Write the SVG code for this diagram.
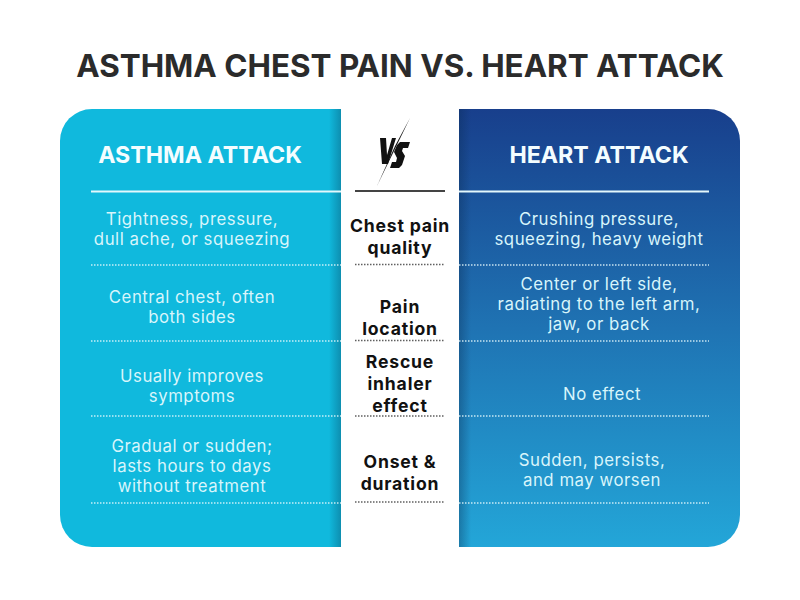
<svg xmlns="http://www.w3.org/2000/svg" width="800" height="600" viewBox="0 0 800 600">
<style>
text{font-family:Inter,"Liberation Sans",sans-serif;text-anchor:middle}
.t{font-size:31.4px;font-weight:700;fill:#2b2b2b}
.h{font-size:23.2px;font-weight:700;fill:#f4fdff}
.b{font-size:16.8px;fill:#d8f5fb;letter-spacing:.52px}
.m{font-size:17.6px;font-weight:700;fill:#111;letter-spacing:.8px}
.dl{stroke-width:1.5;stroke-dasharray:1.5 1.5;fill:none}
.w{stroke:#e4f8fc;stroke-opacity:.85}
.k{stroke:#444;stroke-opacity:.85}
</style>
<defs>
<linearGradient id="gr" x1="0" y1="0" x2="0" y2="1"><stop offset="0" stop-color="#183f8c"/><stop offset=".5" stop-color="#1f73b3"/><stop offset="1" stop-color="#23a6d8"/></linearGradient>
<linearGradient id="sl" x1="0" x2="1" y1="0" y2="0"><stop offset="0" stop-color="#0a5a78" stop-opacity="0"/><stop offset="1" stop-color="#0a5a78" stop-opacity=".45"/></linearGradient>
<linearGradient id="sr" x1="0" x2="1" y1="0" y2="0"><stop offset="0" stop-color="#0a2a50" stop-opacity=".35"/><stop offset="1" stop-color="#0a2a50" stop-opacity="0"/></linearGradient>
</defs>
<rect width="800" height="600" fill="#fff"/>
<text class="t" x="400" y="77">ASTHMA CHEST PAIN VS. HEART ATTACK</text>
<g id="asthma-panel">
<path d="M341 109H92a32 32 0 0 0-32 32V515a32 32 0 0 0 32 32H341Z" fill="#10b9dd"/>
<rect x="329" y="109" width="12" height="438" fill="url(#sl)"/>
<text class="h" x="200" y="163">ASTHMA ATTACK</text>
<text class="b" x="192" y="225">Tightness, pressure,</text>
<text class="b" x="192" y="245">dull ache, or squeezing</text>
<text class="b" x="192" y="303">Central chest, often</text>
<text class="b" x="192" y="323">both sides</text>
<text class="b" x="192" y="382">Usually improves</text>
<text class="b" x="192" y="402">symptoms</text>
<text class="b" x="192" y="452">Gradual or sudden;</text>
<text class="b" x="192" y="472">lasts hours to days</text>
<text class="b" x="192" y="492">without treatment</text>
</g>
<g id="heart-panel">
<path d="M459 109H708a32 32 0 0 1 32 32V515a32 32 0 0 1-32 32H459Z" fill="url(#gr)"/>
<rect x="459" y="109" width="12" height="438" fill="url(#sr)"/>
<text class="h" x="599" y="163">HEART ATTACK</text>
<text class="b" x="599" y="225">Crushing pressure,</text>
<text class="b" x="599" y="245">squeezing, heavy weight</text>
<text class="b" x="599" y="290">Center or left side,</text>
<text class="b" x="599" y="310">radiating to the left arm,</text>
<text class="b" x="599" y="330">jaw, or back</text>
<text class="b" x="602" y="400">No effect</text>
<text class="b" x="592" y="466">Sudden, persists,</text>
<text class="b" x="592" y="486">and may worsen</text>
</g>
<g id="vs">
<path d="M380 138H386L387 155L392 138H396L388 164H382Z" fill="#111"/>
<path d="M410 118L377 186L395 146Z" fill="#111"/>
<path d="M410 142L408 148H403L402 151L405 156L402 165L399 168H390L392 162H396L397 158L394 152L397 145L400 142Z" fill="#111"/>
</g>
<g id="labels">
<text class="m" x="400" y="232">Chest pain</text>
<text class="m" x="400" y="254">quality</text>
<text class="m" x="400" y="313">Pain</text>
<text class="m" x="400" y="335">location</text>
<text class="m" x="400" y="368">Rescue</text>
<text class="m" x="400" y="390">inhaler</text>
<text class="m" x="400" y="412">effect</text>
<text class="m" x="400" y="468">Onset &amp;</text>
<text class="m" x="400" y="490">duration</text>
</g>
<g id="connectors">
<path d="M91 191.500H341M459 191.500H709" stroke="#e4f8fc" stroke-width="2" fill="none"/>
<path d="M355 191H445" stroke="#444" stroke-width="2" fill="none"/>
<path class="dl w" d="M91 265H341M459 265H709M91 341H341M459 341H709M91 416H341M459 416H709M91 503H341M459 503H709"/>
<path class="dl k" d="M355 264.500H445M355 340.500H445M355 416H445M355 502H445"/>
</g>
</svg>
